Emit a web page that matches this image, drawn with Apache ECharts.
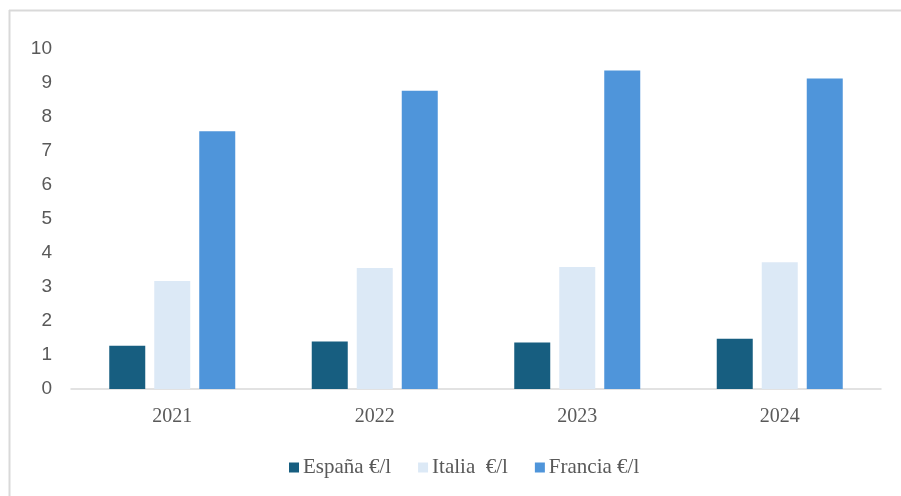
<!DOCTYPE html>
<html>
<head>
<meta charset="utf-8">
<script src="https://cdn.jsdelivr.net/npm/echarts@6/dist/echarts.min.js"></script>
<style>
  html, body { margin: 0; padding: 0; background: #ffffff; }
  #chart { width: 901px; height: 496px; }
</style>
</head>
<body>
<div id="chart"></div>
<script>
// Years on the category axis
const years = ['2021', '2022', '2023', '2024'];

// Price per litre by country
const espana = [1.27, 1.40, 1.37, 1.48];
const italia = [3.18, 3.56, 3.59, 3.73];
const francia = [7.58, 8.77, 9.37, 9.13];

// Series names shown in the legend
const seriesNames = ['España €/l', 'Italia  €/l', 'Francia €/l'];

// Value axis range
const yMin = 0;
const yMax = 10;
const yStep = 1;

const colors = ['#175e80', '#dce9f6', '#4f95da'];

const chart = echarts.init(document.getElementById('chart'), null, { renderer: 'canvas' });

const serif = '"Liberation Serif", "DejaVu Serif", serif';
const sans = '"Liberation Sans", Arial, sans-serif';

chart.setOption({
  animation: false,
  backgroundColor: '#ffffff',
  color: colors,
  graphic: [
    // thin frame round the plot area
    { type: 'line', shape: { x1: 9, y1: 10.5, x2: 901, y2: 10.5 }, style: { stroke: '#d9d9d9', lineWidth: 2 }, silent: true },
    { type: 'line', shape: { x1: 9.5, y1: 10, x2: 9.5, y2: 496 }, style: { stroke: '#d9d9d9', lineWidth: 2 }, silent: true }
  ],
  grid: {
    left: 71,
    right: 20,
    top: 49,
    bottom: 107,
    containLabel: false
  },
  legend: {
    top: 452,
    left: 284,
    itemWidth: 10,
    itemHeight: 10,
    itemGap: 27,
    icon: 'rect',
    textStyle: { fontFamily: serif, fontSize: 21, color: '#595959', padding: [0, 0, 0, -1] },
    data: seriesNames
  },
  xAxis: {
    type: 'category',
    data: years,
    axisLine: { show: true, lineStyle: { color: '#d9d9d9', width: 1.5 } },
    axisTick: { show: false },
    axisLabel: { fontFamily: serif, fontSize: 20, color: '#595959', margin: 18 },
    splitLine: { show: false }
  },
  yAxis: {
    type: 'value',
    min: yMin,
    max: yMax,
    interval: yStep,
    axisLine: { show: false },
    axisTick: { show: false },
    axisLabel: { fontFamily: sans, fontSize: 19, color: '#595959', margin: 19 },
    splitLine: { show: false }
  },
  series: [
    { name: seriesNames[0], type: 'bar', data: espana, barWidth: 36, barGap: '25%', itemStyle: { color: colors[0] } },
    { name: seriesNames[1], type: 'bar', data: italia, barWidth: 36, barGap: '25%', itemStyle: { color: colors[1] } },
    { name: seriesNames[2], type: 'bar', data: francia, barWidth: 36, barGap: '25%', itemStyle: { color: colors[2] } }
  ]
});
</script>
</body>
</html>
